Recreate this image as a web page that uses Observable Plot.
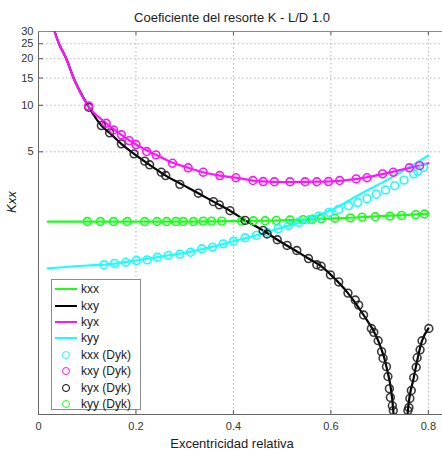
<!DOCTYPE html>
<html>
<head>
<meta charset="utf-8">
<script src="https://cdn.jsdelivr.net/npm/d3@7"></script>
<script src="https://cdn.jsdelivr.net/npm/@observablehq/plot@0.6"></script>
<style>
  body { margin: 0; background: #fff; font-family: "Liberation Sans", Arial, sans-serif; }
  #wrap { position: relative; width: 442px; height: 453px; }
  #legend { position: absolute; left: 51px; top: 279px; width: 90px; height: 131px;
    border: 1px solid #8c8c8c; background: #fff; box-sizing: border-box; padding-top: 1px; }
  .row { height: 16.4px; display: flex; align-items: center; font-size: 12px; color: #222; }
  .sw { width: 27px; display: flex; justify-content: center; align-items: center; margin-right: 2px; }
  .ln { width: 22px; height: 2px; }
  .ci { width: 6px; height: 6px; border-radius: 50%; border: 1.8px solid; }
</style>
</head>
<body>
<div id="wrap"></div>
<script>
// ---- data ----
const title = "Coeficiente del resorte K - L/D 1.0";
const xLabel = "Excentricidad relativa";
const yLabel = "Kxx";
const xTicks = [0, 0.2, 0.4, 0.6, 0.8];
const yTicks = [5, 10, 15, 20, 25, 30];

const kxxLineX = [0.019, 0.1, 0.2, 0.3, 0.4, 0.5, 0.55, 0.6, 0.65, 0.7, 0.75, 0.8];
const kxxLineY = [1.77, 1.77, 1.77, 1.77, 1.78, 1.80, 1.82, 1.85, 1.88, 1.92, 1.95, 1.99];

const kxyLineX = [0.033, 0.042, 0.057, 0.072, 0.101, 0.129, 0.146, 0.170, 0.196, 0.228, 0.261, 0.294, 0.328, 0.359, 0.393, 0.424, 0.461, 0.490, 0.527, 0.554, 0.580, 0.600, 0.635, 0.667, 0.697, 0.714, 0.728, 0.742, 0.758, 0.770, 0.787, 0.800];
const kxyLineY = [30, 25, 20, 15, 10, 7.39, 6.63, 5.63, 4.85, 4.12, 3.51, 3.08, 2.70, 2.38, 2.08, 1.80, 1.55, 1.35, 1.15, 1.02, 0.91, 0.80, 0.61, 0.44, 0.30, 0.204, 0.106, 0.01, 0.106, 0.173, 0.30, 0.36];

const kyxLineX = [0.033, 0.042, 0.057, 0.072, 0.101, 0.139, 0.170, 0.200, 0.241, 0.273, 0.307, 0.338, 0.372, 0.405, 0.440, 0.480, 0.520, 0.550, 0.600, 0.650, 0.700, 0.750, 0.800];
const kyxLineY = [30, 25, 20, 15, 10, 7.65, 6.44, 5.57, 4.78, 4.28, 3.94, 3.69, 3.51, 3.40, 3.26, 3.20, 3.19, 3.20, 3.22, 3.33, 3.56, 3.86, 4.22];

const kyyLineX = [0.019, 0.1, 0.134, 0.2, 0.25, 0.3, 0.35, 0.4, 0.45, 0.5, 0.537, 0.57, 0.606, 0.64, 0.674, 0.71, 0.743, 0.77, 0.8];
const kyyLineY = [0.88, 0.92, 0.93, 0.99, 1.05, 1.11, 1.20, 1.32, 1.45, 1.62, 1.75, 1.92, 2.14, 2.45, 2.81, 3.22, 3.69, 4.15, 4.73];

// Dyk markers (colours as in the legend)
const dykCyanX = [0.134, 0.156, 0.179, 0.201, 0.223, 0.244, 0.266, 0.290, 0.312, 0.335, 0.357, 0.379, 0.400, 0.424, 0.447, 0.469, 0.492, 0.513, 0.534, 0.556, 0.575, 0.596, 0.616, 0.636, 0.655, 0.674, 0.693, 0.712, 0.731, 0.750, 0.770, 0.778, 0.790];
const dykCyanY = [0.93, 0.95, 0.966, 0.99, 1.00, 1.04, 1.07, 1.09, 1.12, 1.18, 1.21, 1.27, 1.32, 1.39, 1.44, 1.51, 1.59, 1.67, 1.75, 1.82, 1.92, 2.03, 2.12, 2.24, 2.35, 2.49, 2.66, 2.83, 3.02, 3.28, 3.60, 3.74, 3.97];

const dykMagentaX = [0.103, 0.139, 0.154, 0.170, 0.186, 0.200, 0.222, 0.241, 0.275, 0.307, 0.338, 0.372, 0.405, 0.440, 0.461, 0.484, 0.516, 0.547, 0.571, 0.595, 0.618, 0.652, 0.674, 0.706, 0.728, 0.761, 0.782];
const dykMagentaY = [9.9, 7.65, 6.93, 6.44, 5.91, 5.57, 5.02, 4.78, 4.22, 3.94, 3.69, 3.51, 3.40, 3.26, 3.21, 3.20, 3.20, 3.20, 3.20, 3.21, 3.26, 3.34, 3.40, 3.60, 3.69, 3.94, 4.07];

const dykBlackX = [0.103, 0.129, 0.146, 0.170, 0.196, 0.218, 0.228, 0.252, 0.261, 0.290, 0.328, 0.359, 0.371, 0.393, 0.424, 0.461, 0.469, 0.490, 0.510, 0.530, 0.554, 0.571, 0.580, 0.599, 0.616, 0.635, 0.650, 0.657, 0.667, 0.683, 0.688, 0.697, 0.704, 0.707, 0.714, 0.717, 0.720, 0.722, 0.726, 0.728, 0.758, 0.760, 0.762, 0.765, 0.770, 0.775, 0.777, 0.783, 0.787, 0.801];
const dykBlackY = [9.71, 7.39, 6.63, 5.63, 4.85, 4.35, 4.12, 3.69, 3.51, 3.08, 2.70, 2.38, 2.27, 2.08, 1.80, 1.55, 1.47, 1.35, 1.24, 1.15, 1.02, 0.93, 0.91, 0.80, 0.72, 0.61, 0.55, 0.51, 0.44, 0.36, 0.34, 0.30, 0.255, 0.231, 0.204, 0.176, 0.147, 0.129, 0.114, 0.106, 0.106, 0.111, 0.127, 0.143, 0.173, 0.202, 0.233, 0.262, 0.30, 0.36];

const dykGreenX = [0.100, 0.127, 0.154, 0.182, 0.218, 0.243, 0.263, 0.282, 0.297, 0.318, 0.338, 0.355, 0.376, 0.417, 0.441, 0.465, 0.488, 0.516, 0.543, 0.561, 0.580, 0.608, 0.640, 0.664, 0.691, 0.721, 0.745, 0.774, 0.792];
const dykGreenY = [1.77, 1.77, 1.77, 1.77, 1.77, 1.77, 1.77, 1.77, 1.77, 1.77, 1.78, 1.78, 1.78, 1.78, 1.79, 1.79, 1.80, 1.81, 1.82, 1.83, 1.85, 1.86, 1.87, 1.89, 1.90, 1.92, 1.94, 1.96, 1.98];

const colors = { green: "#19ff19", black: "#000000", magenta: "#ff14ff", cyan: "#19ffff" };
const legendItems = [
  { label: "kxx", color: colors.green, kind: "line" },
  { label: "kxy", color: colors.black, kind: "line" },
  { label: "kyx", color: colors.magenta, kind: "line" },
  { label: "kyy", color: colors.cyan, kind: "line" },
  { label: "kxx (Dyk)", color: colors.cyan, kind: "dot" },
  { label: "kxy (Dyk)", color: colors.magenta, kind: "dot" },
  { label: "kyx (Dyk)", color: colors.black, kind: "dot" },
  { label: "kyy (Dyk)", color: colors.green, kind: "dot" }
];

const pts = (xs, ys) => xs.map((x, i) => ({ x, y: ys[i] }));
const lineOpts = c => ({ x: "x", y: "y", stroke: c, strokeWidth: 2.2, clip: true, curve: "monotone-x" });
const dotOpts = c => ({ x: "x", y: "y", stroke: c, fill: "none", r: 3.9, strokeWidth: 1.6, clip: true });

const gridStyle = { stroke: "#b4b4b4", strokeWidth: 1, strokeDasharray: "1.5,2.5" };

const chart = Plot.plot({
  width: 442,
  height: 453,
  marginLeft: 38,
  marginTop: 31,
  marginBottom: 39,
  marginRight: 0,
  style: { fontFamily: "Liberation Sans, Arial, sans-serif", background: "#fff" },
  x: { domain: [0, 0.829] },
  y: { type: "log", domain: [0.1, 30] },
  marks: [
    Plot.ruleY(yTicks, gridStyle),
    Plot.ruleX(xTicks.filter(d => d > 0), gridStyle),
    Plot.tickX(xTicks, { stroke: "#555", insetTop: 379 }),
    Plot.tickX(xTicks, { stroke: "#555", insetBottom: 379 }),
    Plot.tickY(yTicks, { stroke: "#555", insetRight: 399 }),
    Plot.frame({ anchor: "left", stroke: "#666" }),
    Plot.frame({ anchor: "top", stroke: "#888" }),
    Plot.frame({ anchor: "bottom", stroke: "#666" }),
    Plot.axisY(yTicks, { tickSize: 0, tickPadding: 5, tickFormat: d => String(d), label: null, fontSize: 11, fill: "#333" }),
    Plot.axisX(xTicks, { tickSize: 0, tickPadding: 8, tickFormat: d => String(d), label: null, fontSize: 11, fill: "#333" }),
    Plot.line(pts(kxxLineX, kxxLineY), lineOpts(colors.green)),
    Plot.line(pts(kyyLineX, kyyLineY), lineOpts(colors.cyan)),
    Plot.line(pts(kxyLineX, kxyLineY), lineOpts(colors.black)),
    Plot.line(pts(kyxLineX, kyxLineY), lineOpts(colors.magenta)),
    Plot.dot(pts(dykGreenX, dykGreenY), dotOpts(colors.green)),
    Plot.dot(pts(dykCyanX, dykCyanY), dotOpts(colors.cyan)),
    Plot.dot(pts(dykBlackX, dykBlackY), { ...dotOpts("#1a1a1a"), strokeOpacity: 0.85 }),
    Plot.dot(pts(dykMagentaX, dykMagentaY), dotOpts(colors.magenta)),
    Plot.text([title], { frameAnchor: "top", dx: -8.5, dy: -14, fontSize: 13, fill: "#222", lineAnchor: "middle" }),
    Plot.text([xLabel], { frameAnchor: "bottom", dx: -8.5, dy: 29, fontSize: 13, fill: "#222", lineAnchor: "middle" }),
    Plot.text([yLabel], { frameAnchor: "left", dx: -27, dy: -10, rotate: -90, fontSize: 13, fontStyle: "italic", fill: "#222", lineAnchor: "middle" })
  ]
});

const wrap = document.getElementById("wrap");
wrap.appendChild(chart);

const legend = document.createElement("div");
legend.id = "legend";
for (const it of legendItems) {
  const row = document.createElement("div");
  row.className = "row";
  const sw = document.createElement("div");
  sw.className = "sw";
  const m = document.createElement("div");
  if (it.kind === "line") { m.className = "ln"; m.style.background = it.color; }
  else { m.className = "ci"; m.style.borderColor = it.color; }
  sw.appendChild(m);
  const t = document.createElement("span");
  t.textContent = it.label;
  row.appendChild(sw);
  row.appendChild(t);
  legend.appendChild(row);
}
wrap.appendChild(legend);
</script>
</body>
</html>
